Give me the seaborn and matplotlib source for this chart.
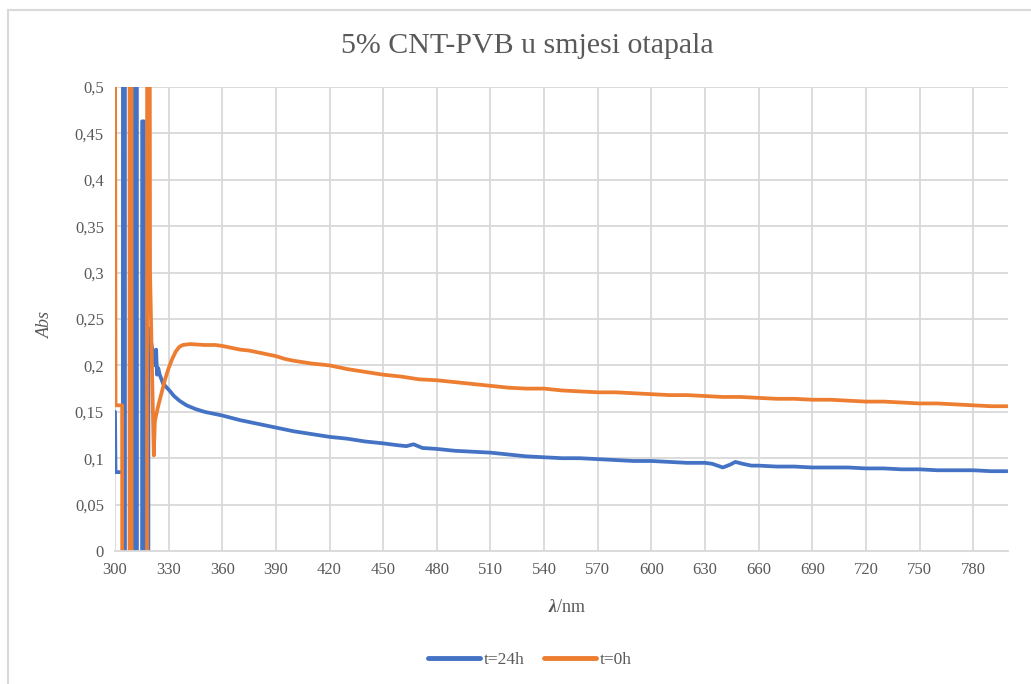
import pandas as pd
import seaborn as sns
import matplotlib.pyplot as plt
from matplotlib.patches import Rectangle
from matplotlib.ticker import MultipleLocator, FuncFormatter

# t=24h (plava)
wl_24h = [300, 300.3, 304.4, 304.5, 305.5, 305.6, 311.1, 311.2, 312.2, 312.3, 315.1,
          315.2, 316.2, 316.3, 318.6, 318.7, 322.6, 323.0, 323.5, 324.2, 325.0, 327,
          330, 333, 336, 340, 345, 350, 355, 360, 370, 380, 390, 400, 410, 420, 430,
          440, 450, 458, 463, 467, 472, 480, 490, 500, 510, 520, 530, 540, 550, 560,
          570, 580, 590, 600, 610, 620, 630, 634, 640, 644, 647, 651, 656, 660, 670,
          680, 690, 700, 710, 720, 730, 740, 750, 760, 770, 780, 790, 799]
abs_24h = [0.15, 0.085, 0.085, 1.2, 1.2, -0.5, -0.5, 1.2, 1.2, -0.5, -0.5,
           0.463, 0.463, -0.5, -0.5, 0.24, 0.2, 0.217, 0.19, 0.197, 0.19, 0.18,
           0.174, 0.167, 0.162, 0.157, 0.153, 0.15, 0.148, 0.146, 0.141, 0.137, 0.133,
           0.129, 0.126, 0.123, 0.121, 0.118, 0.116, 0.114, 0.113, 0.115, 0.111, 0.11,
           0.108, 0.107, 0.106, 0.104, 0.102, 0.101, 0.1, 0.1, 0.099, 0.098, 0.097,
           0.097, 0.096, 0.095, 0.095, 0.094, 0.09, 0.093, 0.096, 0.094, 0.092, 0.092,
           0.091, 0.091, 0.09, 0.09, 0.09, 0.089, 0.089, 0.088, 0.088, 0.087, 0.087,
           0.087, 0.086, 0.086]

# t=0h (narančasta)
wl_0h = [300, 300.3, 304.0, 304.1, 308.1, 308.2, 309.2, 309.3, 317.9, 318.0, 319.0,
         319.6, 321.7, 322.3, 324, 326, 328, 330, 332, 334, 336, 338, 342, 350, 356,
         360, 365, 370, 375, 380, 385, 390, 395, 400, 410, 420, 430, 440, 450, 460,
         470, 480, 490, 500, 510, 520, 530, 540, 550, 560, 570, 580, 590, 600, 610,
         620, 630, 640, 650, 660, 670, 680, 690, 700, 710, 720, 730, 740, 750, 760,
         770, 780, 790, 799]
abs_0h = [0.6, 0.157, 0.157, -0.5, -0.5, 1.2, 1.2, -0.5, -0.5, 1.2, 1.2,
          0.3, 0.103, 0.14, 0.155, 0.17, 0.185, 0.197, 0.207, 0.215, 0.22, 0.222,
          0.223, 0.222, 0.222, 0.221, 0.219, 0.217, 0.216, 0.214, 0.212, 0.21, 0.207,
          0.205, 0.202, 0.2, 0.196, 0.193, 0.19, 0.188, 0.185, 0.184, 0.182, 0.18,
          0.178, 0.176, 0.175, 0.175, 0.173, 0.172, 0.171, 0.171, 0.17, 0.169, 0.168,
          0.168, 0.167, 0.166, 0.166, 0.165, 0.164, 0.164, 0.163, 0.163, 0.162, 0.161,
          0.161, 0.16, 0.159, 0.159, 0.158, 0.157, 0.156, 0.156]

series_names = ["t=24h", "t=0h"]
boje = ["#4472C4", "#ED7D31"]

df = pd.concat([
    pd.DataFrame({"wl": wl_24h, "abs": abs_24h, "serija": series_names[0]}),
    pd.DataFrame({"wl": wl_0h, "abs": abs_0h, "serija": series_names[1]}),
], ignore_index=True)

sns.set_style("white")
plt.rcParams['font.family'] = ['Liberation Serif', 'DejaVu Serif']
siva = "#595959"
grid_c = "#D9D9D9"

fig = plt.figure(figsize=(10.31, 6.84), dpi=100)
ax = fig.add_axes([115 / 1031, 1 - 551 / 684, 893 / 1031, 464 / 684])

sns.lineplot(data=df, x="wl", y="abs", hue="serija", palette=boje, sort=False,
             estimator=None, linewidth=2.7, ax=ax, legend=False)

ax.set_xlim(300, 799.5)
ax.set_ylim(0, 0.5)
ax.xaxis.set_major_locator(MultipleLocator(30))
ax.yaxis.set_major_locator(MultipleLocator(0.05))
ax.yaxis.set_major_formatter(FuncFormatter(lambda v, p: f"{v:g}".replace(".", ",")))
ax.grid(True, color=grid_c, linewidth=1.3)
ax.set_axisbelow(True)
for s in ["top", "right", "left"]:
    ax.spines[s].set_visible(False)
ax.spines["bottom"].set_color(grid_c)
ax.spines["bottom"].set_linewidth(1.3)
ax.tick_params(axis="both", length=0, labelsize=12, labelcolor=siva, pad=8)
ax.set_xlabel("")
ax.set_ylabel("")

# naslovi i oznake osi
fig.text(0.511, 1 - 46 / 684, "5% CNT-PVB u smjesi otapala", ha="center", va="center",
         fontsize=21.5, color=siva)
fig.text(45 / 1031, 1 - 325 / 684, "Abs", rotation=90, ha="center", va="center",
         fontsize=13, style="italic", color=siva)
fig.text(557 / 1031, 1 - 607 / 684, "λ", ha="right", va="center", fontsize=13,
         style="italic", weight="bold", color=siva)
fig.text(557 / 1031, 1 - 607 / 684, "/nm", ha="left", va="center", fontsize=13,
         color=siva)

# legenda
handles = [plt.Line2D([], [], color=c, linewidth=3.5) for c in boje]
fig.legend(handles, series_names, loc="center", bbox_to_anchor=(0.514, 1 - 660 / 684),
           ncol=2, frameon=False, fontsize=12.5, handlelength=3, columnspacing=1.1,
           handletextpad=0.2, labelcolor=siva)

# okvir grafikona
fig.add_artist(Rectangle((8 / 1031, -0.1), 1.2, 1.1 - 10 / 684, transform=fig.transFigure,
                         fill=False, edgecolor=grid_c, linewidth=1.5))

fig.savefig("out.png", dpi=100)
